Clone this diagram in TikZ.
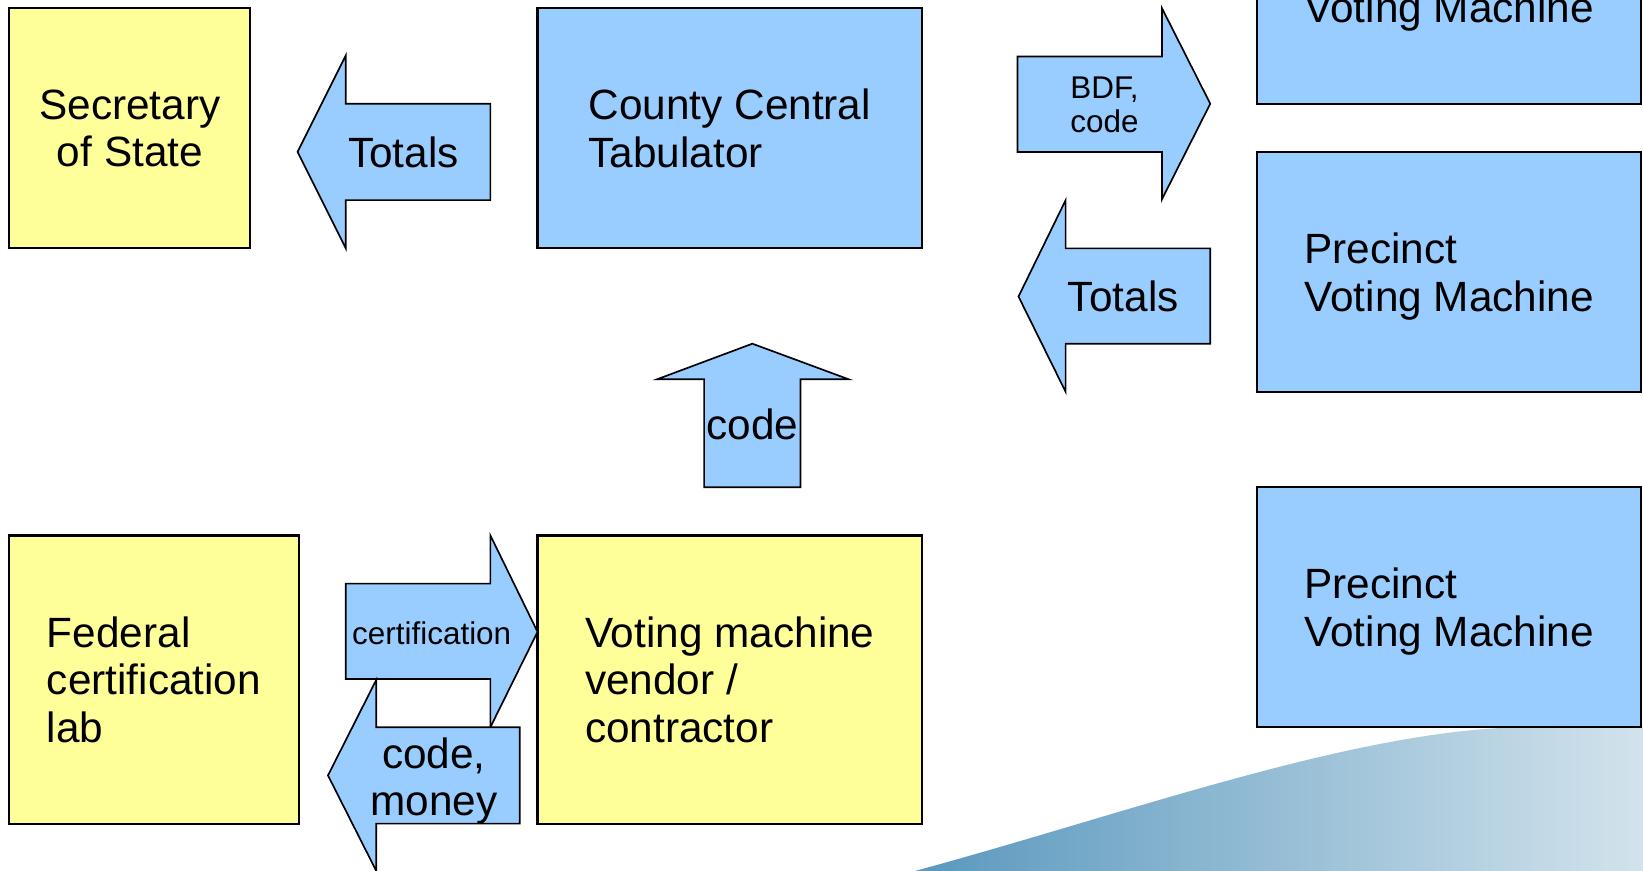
\documentclass[tikz,border=0pt]{standalone}
\usepackage{fontspec}
\setmainfont{Liberation Sans}
\usepackage{tikz}
\usetikzlibrary{arrows.meta}

\definecolor{boxblue}{HTML}{99CCFF}
\definecolor{boxyellow}{HTML}{FFFF99}
\definecolor{swooshL}{HTML}{5A98BE}
\definecolor{swooshR}{HTML}{D2E3EC}

\newcommand{\bigtext}{\fontsize{20.2}{22.7}\selectfont}
\newcommand{\smalltext}{\fontsize{15}{16.5}\selectfont}

\begin{document}
\begin{tikzpicture}[x=0.5pt,y=-0.5pt]
		\useasboundingbox (0,0) rectangle (1568,831);
		\clip (0,0) rectangle (1568,831);

		% background swoosh
		\shade[left color=swooshL,right color=swooshR]
			(874,831) .. controls (1080,775) and (1300,694) .. (1460,694)
			-- (1568,694) -- (1568,831) -- cycle;

		\begin{scope}[every node/.style={rectangle,draw=black,line width=1pt,
		                                  inner sep=0pt,text depth=0pt,align=left,font=\bigtext}]
			\node[fill=boxyellow,align=center,minimum width=115pt,minimum height=114.5pt] (sos) at (124,122.5) {Secretary\\of State};
			\node[fill=boxblue,minimum width=183.5pt,minimum height=114.5pt] (cct) at (696.5,122.5) {County Central\\Tabulator};
			\node[fill=boxblue,minimum width=183pt,minimum height=114.5pt] (pvm1) at (1383,-15.5) {Precinct\\Voting Machine};
			\node[fill=boxblue,minimum width=183pt,minimum height=114.5pt] (pvm2) at (1383,259.5) {Precinct\\Voting Machine};
			\node[fill=boxblue,minimum width=183pt,minimum height=114.5pt] (pvm3) at (1383,579.5) {Precinct\\Voting Machine};
			\node[fill=boxyellow,minimum width=138pt,minimum height=137.5pt] (fed) at (147,648.5) {Federal\\certification\\lab};
			\node[fill=boxyellow,minimum width=183.5pt,minimum height=137.5pt] (vendor) at (696.5,648.5) {Voting machine\\vendor /\\contractor};
		\end{scope}

		\begin{scope}[every path/.style={draw=black,fill=boxblue,line width=0.8pt,line join=miter}]
			\path (468,99) -- (330,99) -- (330,53) -- (284,145) -- (330,237) -- (330,191) -- (468,191) -- cycle;
			\path (971,54) -- (1109,54) -- (1109,8) -- (1155,99) -- (1109,190) -- (1109,145) -- (971,145) -- cycle;
			\path (1155,237) -- (1017,237) -- (1017,191) -- (972,283) -- (1017,374) -- (1017,328) -- (1155,328) -- cycle;
			\path (672,465) -- (672,362) -- (627,362) -- (718,328) -- (810,362) -- (764,362) -- (764,465) -- cycle;
			\path (330,557) -- (468,557) -- (468,511) -- (513,603) -- (468,694) -- (468,648) -- (330,648) -- cycle;
			\path (496,694) -- (359,694) -- (359,649) -- (313,740) -- (359,831) -- (359,786) -- (496,786) -- cycle;
		\end{scope}

		\begin{scope}[every node/.style={inner sep=0pt,text depth=0pt,align=center}]
			\node[font=\bigtext] (totalsA) at (385,145) {Totals};
			\node[font=\smalltext] (bdf) at (1054,100) {BDF,\\code};
			\node[font=\bigtext] (totalsB) at (1072,283) {Totals};
			\node[font=\bigtext] (codeup) at (718,405) {code};
			\node[font=\smalltext] (cert) at (412,604) {certification};
			\node[font=\bigtext] (codemoney) at (414,741) {code,\\money};
		\end{scope}
\end{tikzpicture}
\end{document}
